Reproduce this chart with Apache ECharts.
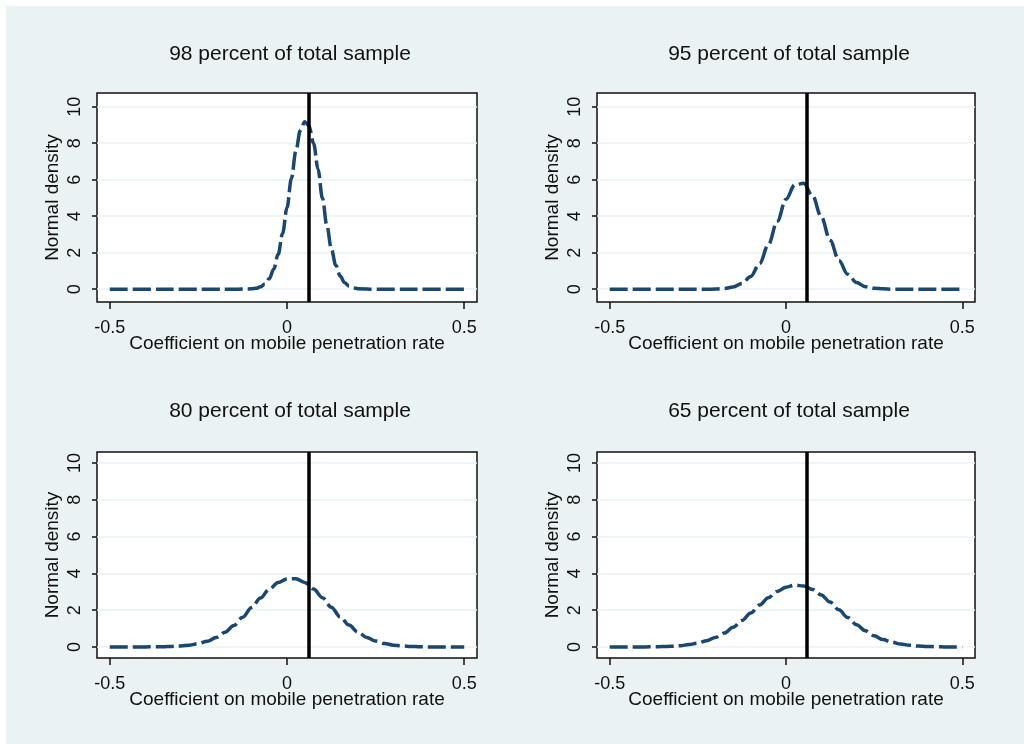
<!DOCTYPE html>
<html>
<head>
<meta charset="utf-8">
<script src="https://cdn.jsdelivr.net/npm/echarts@6/dist/echarts.min.js"></script>
<style>
html,body{margin:0;padding:0;background:#ffffff;}
#chart{width:1024px;height:744px;}
</style>
</head>
<body>
<div id="chart"></div>
<script>
// ---- data ----
const panelTitles = ['98 percent of total sample', '95 percent of total sample', '80 percent of total sample', '65 percent of total sample'];
const xTickValues = [-0.5, 0, 0.5];
const xTickLabels = ['-0.5', '0', '0.5'];
const yTickValues = [0, 2, 4, 6, 8, 10];
const fullSampleCoef = 0.056;

// x grid for panel 1 (finer around the peak)
const x98 = [-0.5, -0.4, -0.3, -0.2, -0.15, -0.1, -0.0875, -0.075, -0.0625, -0.05, -0.0375, -0.025, -0.0125, 0, 0.0125, 0.025, 0.0375, 0.05, 0.0625, 0.075, 0.0875, 0.1, 0.1125, 0.125, 0.1375, 0.15, 0.1625, 0.175, 0.1875, 0.2, 0.25, 0.3, 0.4, 0.5];
const y98 = [0, 0, 0, 0, 0, 0.02, 0.05, 0.13, 0.28, 0.58, 1.10, 1.91, 3.05, 4.48, 6.07, 7.57, 8.69, 9.18, 8.93, 7.99, 6.58, 4.98, 3.48, 2.23, 1.32, 0.72, 0.36, 0.17, 0.07, 0.03, 0, 0, 0, 0];

// common x grid for panels 2-4
const xGrid = [-0.5, -0.475, -0.45, -0.425, -0.4, -0.375, -0.35, -0.325, -0.3, -0.275, -0.25, -0.225, -0.2, -0.175, -0.15, -0.125, -0.1, -0.075, -0.05, -0.025, 0, 0.025, 0.05, 0.075, 0.1, 0.125, 0.15, 0.175, 0.2, 0.225, 0.25, 0.275, 0.3, 0.325, 0.35, 0.375, 0.4, 0.425, 0.45, 0.475, 0.5];
const y95 = [0, 0, 0, 0, 0, 0, 0, 0, 0, 0, 0, 0, 0.01, 0.04, 0.12, 0.31, 0.70, 1.40, 2.44, 3.71, 4.93, 5.72, 5.80, 5.13, 3.97, 2.68, 1.58, 0.82, 0.37, 0.14, 0.05, 0.02, 0, 0, 0, 0, 0, 0, 0, 0, 0];
const y80 = [0, 0, 0, 0, 0, 0.01, 0.01, 0.03, 0.05, 0.10, 0.18, 0.31, 0.51, 0.80, 1.17, 1.62, 2.14, 2.66, 3.14, 3.50, 3.70, 3.71, 3.51, 3.15, 2.68, 2.16, 1.64, 1.19, 0.81, 0.52, 0.32, 0.19, 0.10, 0.05, 0.03, 0.01, 0, 0, 0, 0, 0];
const y65 = [0, 0, 0, 0, 0, 0.01, 0.02, 0.04, 0.07, 0.13, 0.21, 0.34, 0.52, 0.76, 1.07, 1.44, 1.85, 2.28, 2.68, 3.02, 3.25, 3.36, 3.31, 3.13, 2.83, 2.44, 2.02, 1.60, 1.21, 0.88, 0.61, 0.40, 0.26, 0.16, 0.09, 0.05, 0.03, 0.01, 0, 0, 0];

const panelX = [x98, xGrid, xGrid, xGrid];
const panelY = [y98, y95, y80, y65];

// ---- layout / style ----
const FONT = '"Liberation Sans", Arial, sans-serif';
const NAVY = '#1a476f';
const BG = '#eaf2f3';
const grids = [
  {left: 97, top: 93, width: 380, height: 209},
  {left: 597, top: 93, width: 378, height: 209},
  {left: 97, top: 452, width: 380, height: 206},
  {left: 597, top: 452, width: 378, height: 206}
];
const yRanges = [[-0.7, 10.75], [-0.7, 10.75], [-0.6, 10.6], [-0.6, 10.6]];
const titleTop = [39, 39, 396, 396];

const option = {
  animation: false,
  backgroundColor: 'transparent',
  graphic: [{
    type: 'rect', z: -10, silent: true,
    shape: {x: 6, y: 6, width: 1018, height: 738},
    style: {fill: BG}
  }],
  title: panelTitles.map((t, i) => ({
    text: t,
    left: grids[i].left + grids[i].width / 2 - 2,
    top: titleTop[i],
    textAlign: 'center',
    textStyle: {fontFamily: FONT, fontSize: 21, fontWeight: 'normal', color: '#111'}
  })),
  grid: grids.map(g => Object.assign({}, g, {
    show: true, backgroundColor: '#ffffff', borderColor: '#111', borderWidth: 1.5, containLabel: false
  })),
  xAxis: grids.map((g, i) => ({
    type: 'value', gridIndex: i, min: -0.536, max: 0.536,
    position: 'bottom',
    name: 'Coefficient on mobile penetration rate',
    nameLocation: 'middle', nameGap: 32, nameMoveOverlap: false,
    nameTextStyle: {fontFamily: FONT, fontSize: 19, color: '#111'},
    axisLine: {show: false, onZero: false},
    axisTick: {show: true, customValues: xTickValues, length: 7, inside: false, lineStyle: {color: '#111', width: 1.5}},
    axisLabel: {
      show: true, customValues: xTickValues, margin: 17,
      fontFamily: FONT, fontSize: 18, color: '#111',
      formatter: v => xTickLabels[xTickValues.indexOf(Math.round(v * 1000) / 1000)] ?? String(v)
    },
    splitLine: {show: false}
  })),
  yAxis: grids.map((g, i) => ({
    type: 'value', gridIndex: i, min: yRanges[i][0], max: yRanges[i][1],
    position: 'left',
    name: 'Normal density',
    nameLocation: 'middle', nameGap: 35, nameRotate: 90, nameMoveOverlap: false,
    nameTextStyle: {fontFamily: FONT, fontSize: 19, color: '#111'},
    axisLine: {show: false, onZero: false},
    axisTick: {show: true, customValues: yTickValues, length: 5, inside: false, lineStyle: {color: '#111', width: 1.5}},
    axisLabel: {
      show: true, customValues: yTickValues, rotate: 90, margin: 13,
      fontFamily: FONT, fontSize: 18, color: '#111'
    },
    splitLine: {show: false}
  })),
  series: []
};

panelY.forEach((ys, i) => {
  // horizontal grid lines at tick values
  option.series.push({
    type: 'line', xAxisIndex: i, yAxisIndex: i, data: [], z: 1, silent: true,
    markLine: {
      z: 1, silent: true, symbol: 'none', animation: false,
      label: {show: false},
      lineStyle: {color: BG, width: 1.5, type: 'solid'},
      data: yTickValues.map(v => ({yAxis: v}))
    }
  });
  // density curve
  option.series.push({
    type: 'line', xAxisIndex: i, yAxisIndex: i, z: 3,
    data: panelX[i].map((x, k) => [x, ys[k]]),
    showSymbol: false, smooth: 0.35, smoothMonotone: 'x',
    lineStyle: {color: NAVY, width: 3.5, type: [18, 5], cap: 'butt'},
    silent: true
  });
  // vertical reference line
  option.series.push({
    type: 'line', xAxisIndex: i, yAxisIndex: i, data: [], z: 4, silent: true,
    markLine: {
      z: 6, silent: true, symbol: 'none', animation: false,
      label: {show: false},
      lineStyle: {color: '#000', width: 3.5, type: 'solid'},
      data: [{xAxis: fullSampleCoef}]
    }
  });
});

const chart = echarts.init(document.getElementById('chart'), null, {renderer: 'canvas'});
chart.setOption(option);
</script>
</body>
</html>
